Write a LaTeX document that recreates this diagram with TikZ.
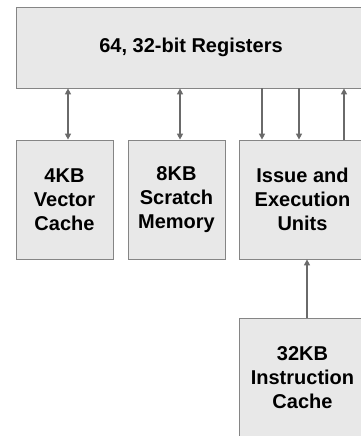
\documentclass[tikz,border=0pt]{standalone}
\usepackage{fontspec}
\setmainfont{Liberation Sans}
\usepackage{xcolor}
\usetikzlibrary{arrows.meta, positioning, calc}

\definecolor{boxfill}{HTML}{E8E8E8}
\definecolor{boxline}{HTML}{858585}
\definecolor{arrowgray}{HTML}{6A6A6A}

\tikzset{
  unit/.style={draw=boxline, fill=boxfill, line width=0.8pt, inner sep=0pt,
    align=center, font=\bfseries\fontsize{20}{24}\selectfont},
  bus/.style={draw=arrowgray, line width=1.6pt, -{Triangle[width=6pt,length=6pt]}},
  dbus/.style={bus, {Triangle[width=6pt,length=6pt]}-{Triangle[width=6pt,length=6pt]}}
}

\begin{document}
\begin{tikzpicture}[x=1pt, y=-1pt]
\useasboundingbox (0,0) rectangle (361,436);
\clip (0,0) rectangle (361,436);

% Register file
\node[unit, minimum width=350pt, minimum height=81pt] (regs) at (191,47.5) {64, 32-bit Registers};

% Memories and execution
\node[unit, minimum width=97pt, minimum height=119pt] (vcache) at (64.5,199.5) {4KB\\Vector\\Cache};
\node[unit, minimum width=97pt, minimum height=119pt] (scratch) at (176.5,199.5) {8KB\\Scratch\\Memory};
\node[unit, minimum width=127pt, minimum height=119pt] (issue) at (302.5,199.5) {Issue and\\Execution\\Units};
\node[unit, minimum width=127pt, minimum height=120pt] (icache) at (302.5,378) {32KB\\Instruction\\Cache};

% Buses
\draw[dbus] ([xshift=3.5pt]vcache.north |- regs.south) -- ([xshift=3.5pt]vcache.north);
\draw[dbus] ([xshift=3.5pt]scratch.north |- regs.south) -- ([xshift=3.5pt]scratch.north);
\foreach \dx in {-40.5,-3.5} {
  \draw[bus] ([xshift=\dx pt]issue.north |- regs.south) -- ([xshift=\dx pt]issue.north);
}
\draw[bus] ([xshift=41.5pt]issue.north) -- ([xshift=41.5pt]issue.north |- regs.south);
\draw[bus] ([xshift=4.5pt]icache.north) -- ([xshift=4.5pt]issue.south);
\end{tikzpicture}
\end{document}
